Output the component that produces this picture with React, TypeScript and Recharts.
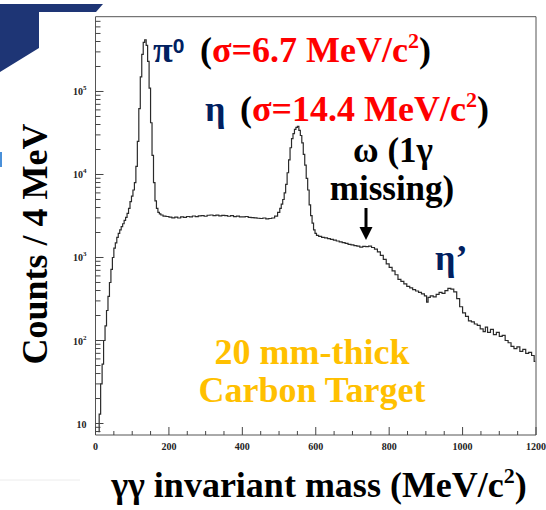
import React from 'react';
import { LineChart, Line, XAxis, YAxis, ReferenceArea } from 'recharts';

// bin centres (MeV/c2) and counts per 4 MeV
const MASS = [
  8, 12, 16, 20, 24, 28, 32, 36, 40, 44, 48, 52, 56, 60, 64, 68, 72, 76, 80, 84,
  88, 92, 96, 100, 104, 108, 112, 116, 120, 124, 128, 132, 136, 140, 144, 148, 152, 156, 160, 164,
  168, 172, 176, 180, 188, 196, 204, 212, 220, 228, 236, 244, 252, 260, 268, 276, 284, 292, 300, 308,
  316, 324, 332, 340, 348, 356, 364, 372, 380, 388, 396, 404, 412, 420, 428, 436, 444, 452, 460, 468,
  476, 484, 492, 500, 504, 508, 512, 516, 520, 524, 528, 532, 536, 540, 544, 548, 552, 556, 560, 564,
  568, 572, 576, 580, 584, 588, 592, 596, 600, 604, 612, 620, 628, 636, 644, 652, 660, 668, 676, 684,
  692, 700, 708, 716, 724, 732, 740, 748, 756, 764, 772, 780, 788, 796, 804, 812, 820, 828, 836, 844,
  852, 860, 868, 876, 884, 892, 900, 904, 908, 916, 924, 932, 940, 948, 956, 964, 972, 980, 988, 996,
  1004, 1012, 1020, 1028, 1036, 1044, 1052, 1060, 1064, 1072, 1080, 1088, 1096, 1104, 1112, 1120, 1128, 1136, 1144, 1152,
  1160, 1168, 1176, 1184, 1192, 1198,
];
const COUNTS = [
  8, 13, 30, 52, 100, 150, 230, 340, 500, 720, 1000, 1300, 1500, 1750, 1950, 2150, 2350, 2550, 2800, 3050,
  3400, 3900, 4700, 5500, 6500, 8000, 12500, 25000, 62000, 150000, 280000, 390000, 420000, 360000, 230000, 110000, 42000, 17000, 8000, 4800,
  3900, 3500, 3350, 3250, 3150, 3120, 3060, 3000, 3060, 2990, 3080, 3040, 3120, 3090, 3160, 3110, 3180, 3200, 3140, 3230,
  3250, 3190, 3240, 3170, 3220, 3200, 3140, 3190, 3110, 3150, 3090, 3080, 3120, 3040, 3020, 3000, 2970, 2950, 2990, 2920,
  2950, 2990, 3150, 3500, 3900, 4400, 5000, 6000, 7600, 10500, 15000, 21000, 27000, 31000, 35000, 37000, 38000, 34000, 29500, 24000,
  17500, 13000, 9000, 6500, 4300, 3200, 2600, 2150, 1950, 1850, 1800, 1750, 1720, 1690, 1650, 1620, 1580, 1540, 1510, 1480,
  1440, 1420, 1390, 1370, 1330, 1360, 1350, 1370, 1320, 1260, 1170, 1060, 950, 840, 760, 690, 620, 545, 515, 480,
  450, 430, 410, 395, 380, 365, 345, 290, 330, 345, 335, 360, 380, 370, 400, 425, 415, 385, 320, 255,
  215, 195, 172, 168, 158, 152, 138, 128, 145, 125, 136, 118, 125, 112, 115, 100, 94, 85, 80, 84,
  74, 78, 70, 72, 66, 56,
];

const X_TICKS = [0, 50, 100, 150, 200, 250, 300, 350, 400, 450, 500, 550, 600, 650, 700, 750, 800, 850, 900, 950, 1000, 1050, 1100, 1150, 1200];
const X_LABELS = [0, 200, 400, 600, 800, 1000, 1200];
const Y_MAJOR = [10, 100, 1000, 10000, 100000];
const Y_EXP = ['', '2', '3', '4', '5'];
const Y_MIN = 7.27;
const Y_MAX = 7.96e5;

const Y_TICKS: number[] = [];
[1, 10, 100, 1000, 10000, 100000].forEach(d => {
  for (let k = 1; k < 10; k++) {
    const v = k * d;
    if (v >= Y_MIN && v <= Y_MAX) Y_TICKS.push(v);
  }
});

const data = MASS.map((m, i) => ({ m, c: COUNTS[i] }));

const SERIF = '"Liberation Serif", "Times New Roman", serif';
const NAVY = '#002060';
const RED = '#ff0000';
const GOLD = '#ffc000';

const XTick = (props: any) => {
  const { x, y, payload } = props;
  const major = X_LABELS.includes(payload.value);
  return (
    <g>
      <line x1={x} x2={x} y1={y} y2={y - (major ? 8 : 4)} stroke="#444" strokeWidth={1} />
      {major && (
        <text x={x} y={y + 15} textAnchor="middle" fontFamily={SERIF} fontWeight="bold" fontSize={10} fill="#222">
          {payload.value}
        </text>
      )}
    </g>
  );
};

const YTick = (props: any) => {
  const { x, y, payload } = props;
  const idx = Y_MAJOR.indexOf(payload.value);
  const major = idx >= 0;
  return (
    <g>
      <line x1={x} x2={x + (major ? 8 : 5)} y1={y} y2={y} stroke="#444" strokeWidth={1} />
      {major && (
        <text x={x - 9} y={y + 4} textAnchor="end" fontFamily={SERIF} fontWeight="bold" fontSize={10} fill="#222">
          10
          {Y_EXP[idx] && <tspan dy={-5} fontSize={7}>{Y_EXP[idx]}</tspan>}
        </text>
      )}
    </g>
  );
};

export default function App() {
  return (
    <div style={{ position: 'absolute', left: 0, top: 0, width: 546, height: 510, background: '#fff' }}>
      <LineChart width={546} height={510} data={data} margin={{ top: 16.7, right: 10, bottom: 0, left: 0 }}>
        <XAxis
          dataKey="m"
          type="number"
          domain={[0, 1200]}
          ticks={X_TICKS}
          interval={0}
          height={75}
          tickSize={0}
          tickMargin={0}
          axisLine={false}
          tickLine={false}
          tick={<XTick />}
          allowDataOverflow
        />
        <YAxis
          type="number"
          scale="log"
          domain={[Y_MIN, Y_MAX]}
          ticks={Y_TICKS}
          interval={0}
          width={95.5}
          tickSize={0}
          tickMargin={0}
          axisLine={false}
          tickLine={false}
          tick={<YTick />}
          allowDataOverflow
        />
        <ReferenceArea x1={0} x2={1200} y1={Y_MIN} y2={Y_MAX} fill="none" stroke="#555" strokeWidth={1} fillOpacity={0} />
        <Line type="step" dataKey="c" stroke="#2a2a2a" strokeWidth={1.2} dot={false} isAnimationActive={false} />
      </LineChart>

      <svg width={546} height={510} style={{ position: 'absolute', left: 0, top: 0, pointerEvents: 'none' }}>
        {/* slide decoration */}
        <polygon points="0,4 103,4 96,12 39,12 39,48 0,72" fill="#1e3575" />
        <rect x={0} y={152} width={2} height={15} fill="#4a90d9" />
        <line x1={0} x2={80} y1={480} y2={480} stroke="#ececec" strokeWidth={1} />

        <g fontFamily={SERIF} fontWeight="bold" fontSize={36}>
          <text x={153} y={62} fill={NAVY}>
            π<tspan dy={-9} fontSize={21} fontFamily="'Liberation Sans', Arial, sans-serif">0</tspan>
          </text>
          <text x={200} y={62}>
            <tspan fill="#000">(</tspan>
            <tspan fill={RED}>σ=6.7 MeV/c</tspan>
            <tspan fill={RED} dy={-14} fontSize={22}>2</tspan>
            <tspan fill="#000" dy={14}>)</tspan>
          </text>

          <text x={205} y={121} fill={NAVY}>η</text>
          <text x={240} y={121}>
            <tspan fill="#000">(</tspan>
            <tspan fill={RED}>σ=14.4 MeV/c</tspan>
            <tspan fill={RED} dy={-14} fontSize={22}>2</tspan>
            <tspan fill="#000" dy={14}>)</tspan>
          </text>

          <text x={393} y={162} textAnchor="middle" fill="#000" fontSize={35}>ω (1γ</text>
          <text x={392} y={200} textAnchor="middle" fill="#000" fontSize={35}>missing)</text>

          <text x={435} y={270} fill={NAVY}>η’</text>

          <text x={312} y={364} textAnchor="middle" fill={GOLD}>20 mm-thick</text>
          <text x={312} y={402} textAnchor="middle" fill={GOLD}>Carbon Target</text>

          <text transform="translate(47,244) rotate(-90)" textAnchor="middle" fill="#000">Counts / 4 MeV</text>
          <text x={319} y={497} textAnchor="middle" fill="#000">
            γγ invariant mass (MeV/c<tspan dy={-14} fontSize={22}>2</tspan><tspan dy={14}>)</tspan>
          </text>
        </g>

        {/* arrow pointing at the omega shoulder */}
        <line x1={366} x2={366} y1={208} y2={229} stroke="#000" strokeWidth={3} />
        <polygon points="359.5,227 372.5,227 366,240" fill="#000" />
      </svg>
    </div>
  );
}
